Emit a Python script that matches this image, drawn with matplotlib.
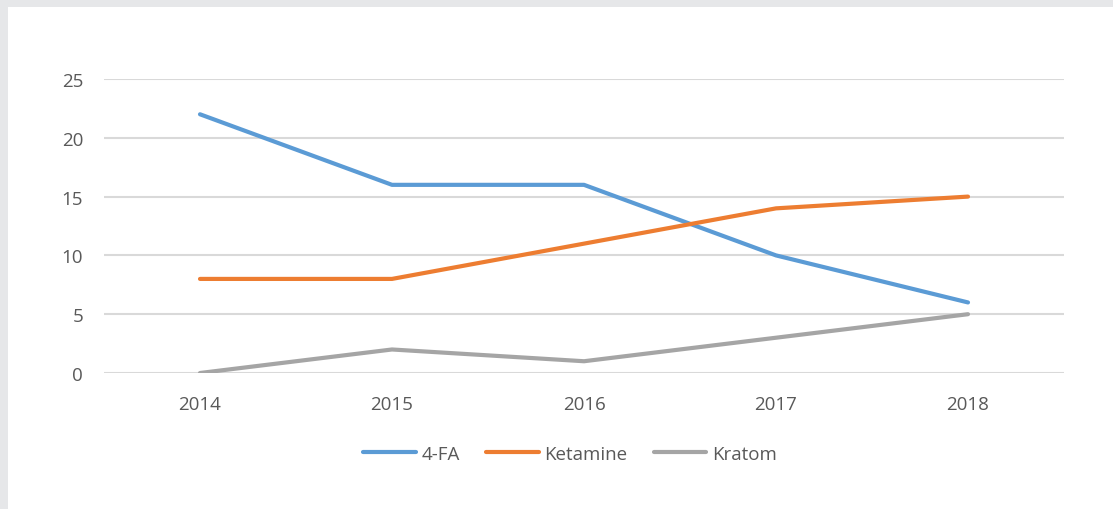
import matplotlib
matplotlib.use("Agg")
import matplotlib.pyplot as plt
from matplotlib.patches import Rectangle

years = ["2014", "2015", "2016", "2017", "2018"]
fa4 = [22, 16, 16, 10, 6]
ketamine = [8, 8, 11, 14, 15]
kratom = [0, 2, 1, 3, 5]
yticks = [0, 5, 10, 15, 20, 25]

plt.rcParams['font.family'] = ['Open Sans', 'DejaVu Sans']

fig = plt.figure(figsize=(11.13, 5.10), dpi=100)
fig.patch.set_facecolor("white")

# grey frame at the top and left edges
frame = "#E6E7E9"
fig.patches.append(Rectangle((0, 1 - 8 / 510), 1, 8 / 510, transform=fig.transFigure,
                             facecolor=frame, edgecolor="none", zorder=0))
fig.patches.append(Rectangle((0, 0), 8 / 1113, 1, transform=fig.transFigure,
                             facecolor=frame, edgecolor="none", zorder=0))

ax = fig.add_axes([104 / 1113, 1 - 374 / 510, (1064 - 104) / 1113, (374 - 80) / 510])
x = range(len(years))
ax.plot(x, fa4, color="#5B9BD5", lw=3, solid_capstyle="round", label="4-FA")
ax.plot(x, ketamine, color="#ED7D31", lw=3, solid_capstyle="round", label="Ketamine")
ax.plot(x, kratom, color="#A5A5A5", lw=3, solid_capstyle="round", label="Kratom")

ax.set_xlim(-0.5, 4.5)
ax.set_ylim(0, 25)
ax.set_xticks(list(x))
ax.set_xticklabels(years)
ax.set_yticks(yticks)
ax.yaxis.grid(True, color="#D9D9D9", lw=1.5)
ax.set_axisbelow(True)
for s in ax.spines.values():
    s.set_visible(False)
ax.tick_params(axis="both", length=0, labelsize=13.5, labelcolor="#595959")
ax.tick_params(axis="y", pad=15)
ax.tick_params(axis="x", pad=16)

fig.legend(loc="center", bbox_to_anchor=(570 / 1113, 1 - 455 / 510), ncol=3,
           frameon=False, fontsize=13.5, labelcolor="#595959", handlelength=2.8,
           handletextpad=0.3, columnspacing=1.4)

fig.savefig("out.png", dpi=100)
